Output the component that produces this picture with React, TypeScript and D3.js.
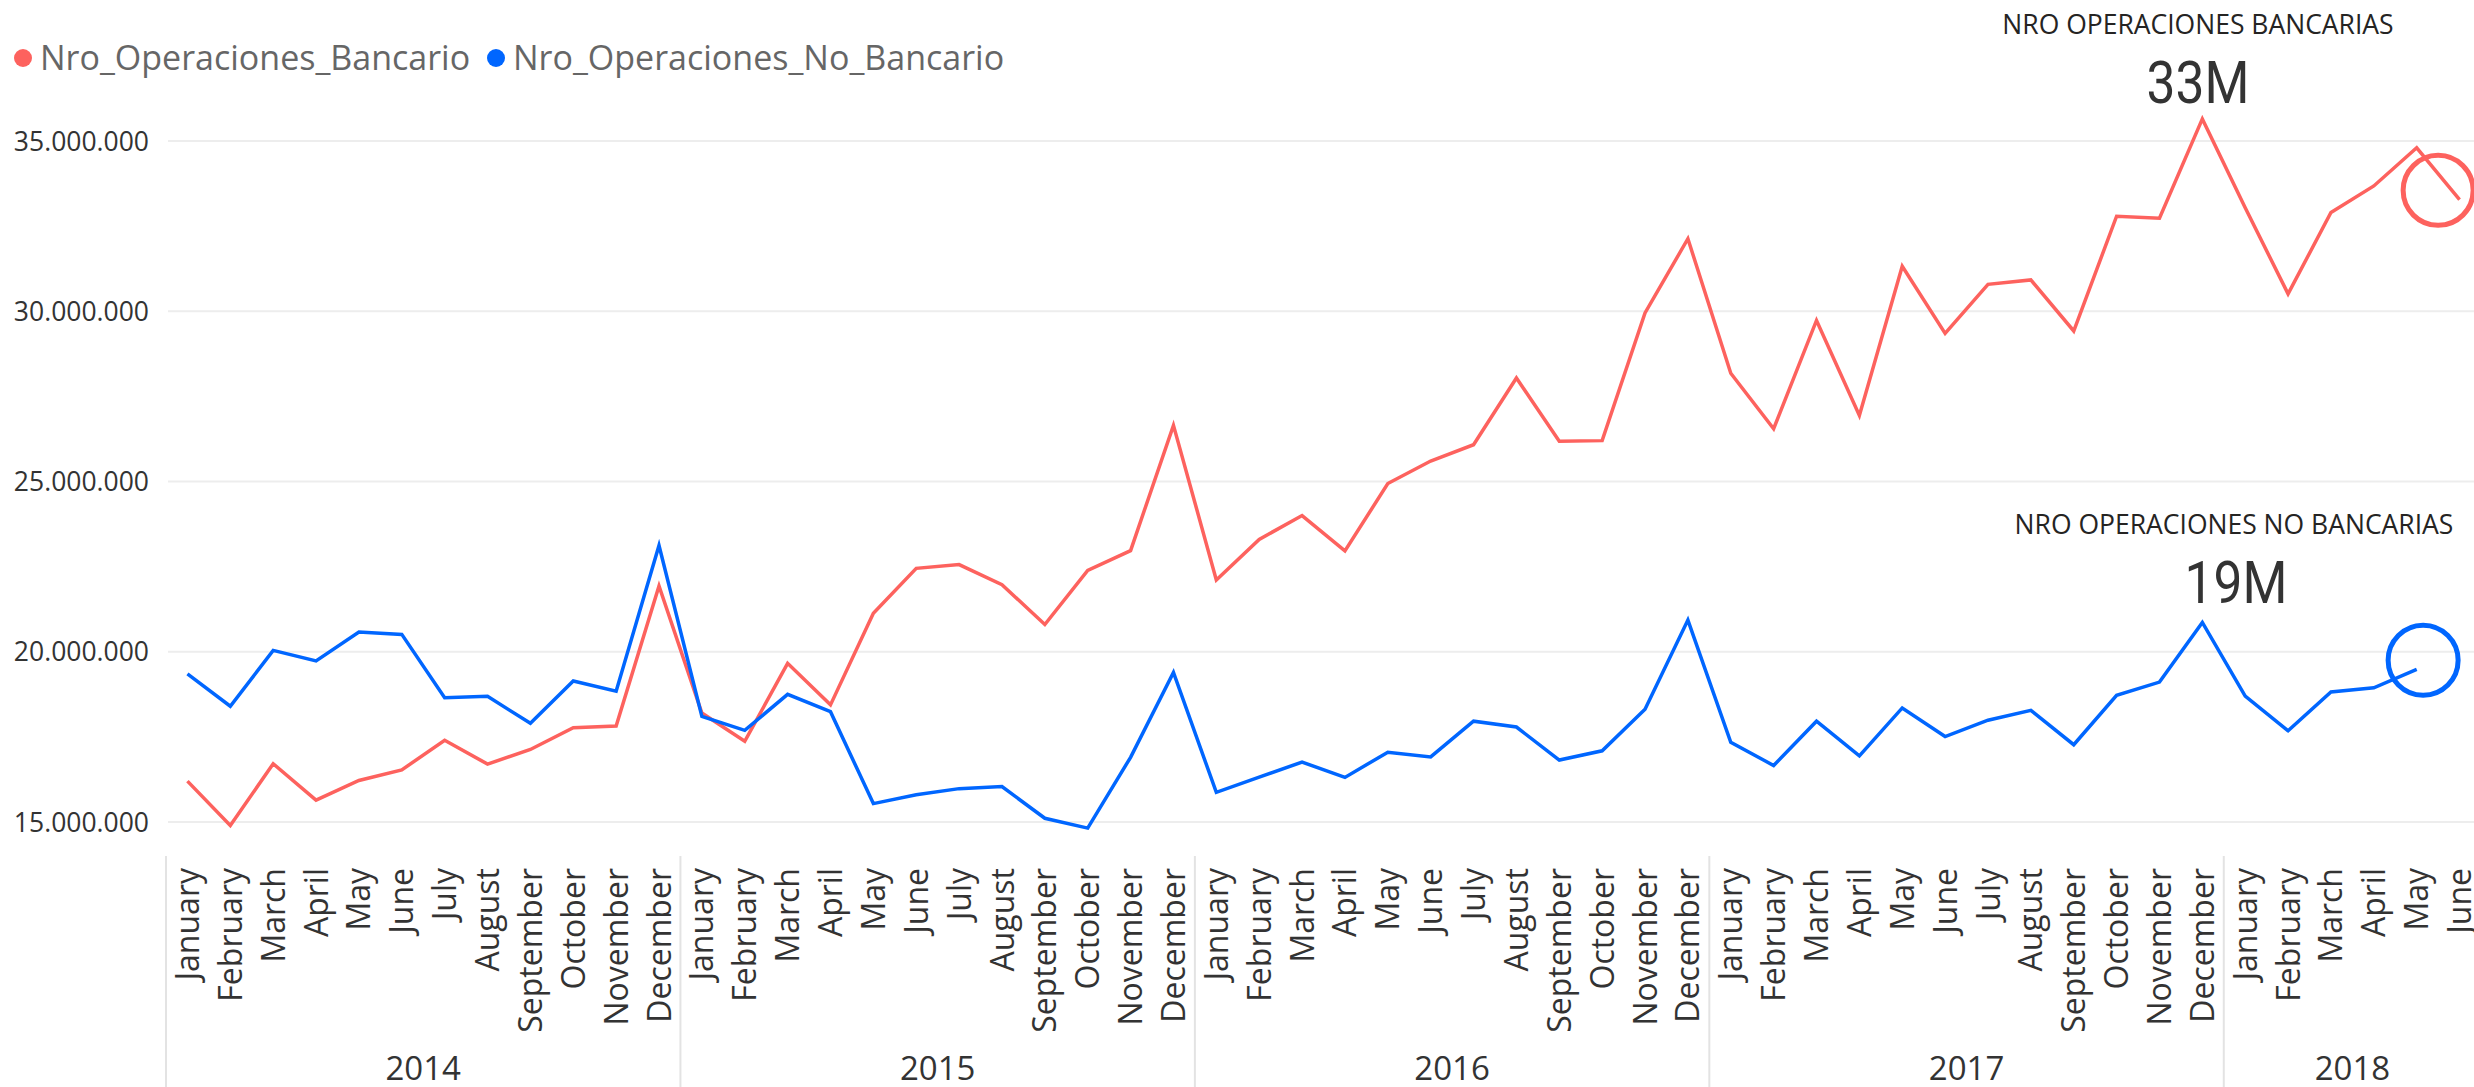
import * as d3 from "d3";

// categories
const monthNames = ["January", "February", "March", "April", "May", "June", "July", "August", "September", "October", "November", "December"];
const years = ["2014", "2015", "2016", "2017", "2018"];
const monthsInYear = [12, 12, 12, 12, 6];

// series values (operations per month)
const bancario = [
  16200000, 14900000, 16710000, 15640000, 16220000, 16530000, 17400000, 16700000, 17130000, 17770000, 17820000, 21930000,
  18200000, 17370000, 19660000, 18440000, 21130000, 22450000, 22560000, 21970000, 20800000, 22390000, 22970000, 26650000,
  22110000, 23300000, 24000000, 22960000, 24940000, 25600000, 26080000, 28040000, 26180000, 26200000, 29950000, 32130000,
  28180000, 26550000, 29730000, 26940000, 31320000, 29350000, 30790000, 30920000, 29420000, 32790000, 32730000, 35650000,
  33040000, 30510000, 32900000, 33680000, 34800000, 33280000,
];
const noBancario = [
  19350000, 18400000, 20040000, 19730000, 20580000, 20510000, 18650000, 18690000, 17900000, 19140000, 18840000, 23120000,
  18100000, 17690000, 18750000, 18240000, 15540000, 15800000, 15980000, 16040000, 15110000, 14820000, 16900000, 19390000,
  15870000, 16320000, 16760000, 16310000, 17050000, 16910000, 17960000, 17790000, 16820000, 17090000, 18310000, 20930000,
  17340000, 16660000, 17960000, 16940000, 18350000, 17510000, 17990000, 18280000, 17270000, 18720000, 19110000, 20860000,
  18700000, 17680000, 18820000, 18940000, 19480000,
];
const yTicks = [15000000, 20000000, 25000000, 30000000, 35000000];

const seriesNames = ["Nro_Operaciones_Bancario", "Nro_Operaciones_No_Bancario"];
const seriesColors = ["#FD625E", "#0066FF"];
const cardTitles = ["NRO OPERACIONES BANCARIAS", "NRO OPERACIONES NO BANCARIAS"];
const cardValues = ["33M", "19M"];
// circled marker values at the end of each line
const markerValues = [33550000, 19750000];

const periods = years.flatMap((yr, i) =>
  monthNames.slice(0, monthsInYear[i]).map((m) => ({ key: `${yr}-${m}`, year: yr, month: m }))
);

const fmt = d3.formatLocale({ decimal: ",", thousands: ".", grouping: [3], currency: ["", ""] }).format(",d");

export default function App() {
  const W = 2474;
  const H = 1087;
  const font = "'Open Sans', 'Noto Sans', sans-serif";

  const x = d3.scaleBand().domain(periods.map((p) => p.key)).range([166, 2481]);
  const bw = x.bandwidth();
  const cx = (i: number) => (x(periods[i].key) as number) + bw / 2;
  const y = d3.scaleLinear().domain([15000000, 35000000]).range([822, 141]);

  const line = d3
    .line<number>()
    .x((_, i) => cx(i))
    .y((d) => y(d));

  const yearStarts = years.map((yr) => x(`${yr}-January`) as number);
  const yearEnds = years.map((_, i) => (i < years.length - 1 ? yearStarts[i + 1] : x.range()[1]));

  const lastRed = bancario.length - 1;
  const lastBlue = noBancario.length - 1;

  return (
    <svg width={W} height={H} style={{ position: "absolute", left: 0, top: 0, background: "#fff" }} fontFamily={font}>
      {/* legend */}
      <g>
        <circle cx={23} cy={58} r={9} fill={seriesColors[0]} />
        <text x={40} y={70} fontSize={34} fill="#666">{seriesNames[0]}</text>
        <circle cx={496} cy={58} r={9} fill={seriesColors[1]} />
        <text x={513} y={70} fontSize={34} fill="#666">{seriesNames[1]}</text>
      </g>

      {/* gridlines + y labels */}
      {yTicks.map((t) => (
        <g key={t}>
          <line x1={168} x2={W} y1={y(t)} y2={y(t)} stroke="#ededed" strokeWidth={2} />
          <text x={149} y={y(t)} dy="0.36em" textAnchor="end" fontSize={26.5} fill="#333">
            {fmt(t)}
          </text>
        </g>
      ))}

      {/* lines */}
      <path d={line(bancario) || ""} fill="none" stroke={seriesColors[0]} strokeWidth={3.5} />
      <path d={line(noBancario) || ""} fill="none" stroke={seriesColors[1]} strokeWidth={3.5} />

      {/* circled markers */}
      <circle cx={cx(lastRed - 1) + bw / 2} cy={y(markerValues[0])} r={35} fill="none" stroke={seriesColors[0]} strokeWidth={5} />
      <circle cx={cx(lastBlue) + bw * 0.15} cy={y(markerValues[1])} r={35} fill="none" stroke={seriesColors[1]} strokeWidth={5} />

      {/* cards */}
      <text x={2198} y={34} textAnchor="middle" fontSize={26.5} fill="#252423">{cardTitles[0]}</text>
      <g transform="translate(2198,103) scale(0.88,1)">
        <text textAnchor="middle" fontSize={58.5} fill="#333" fontFamily="Roboto, sans-serif">{cardValues[0]}</text>
      </g>
      <text x={2234} y={534} textAnchor="middle" fontSize={26.5} fill="#252423">{cardTitles[1]}</text>
      <g transform="translate(2236,603) scale(0.88,1)">
        <text textAnchor="middle" fontSize={58.5} fill="#333" fontFamily="Roboto, sans-serif">{cardValues[1]}</text>
      </g>

      {/* x axis: months */}
      {periods.map((p, i) => (
        <text
          key={p.key}
          transform={`translate(${cx(i)},868) rotate(-90)`}
          dy="0.36em"
          textAnchor="end"
          fontSize={32}
          fill="#333"
        >
          {p.month}
        </text>
      ))}

      {/* x axis: years */}
      {years.map((yr, i) => (
        <g key={yr}>
          <line x1={yearStarts[i]} x2={yearStarts[i]} y1={856} y2={H} stroke="#e3e3e3" strokeWidth={2} />
          <text x={(yearStarts[i] + yearEnds[i]) / 2} y={1080} textAnchor="middle" fontSize={33} fill="#333">
            {yr}
          </text>
        </g>
      ))}
    </svg>
  );
}
